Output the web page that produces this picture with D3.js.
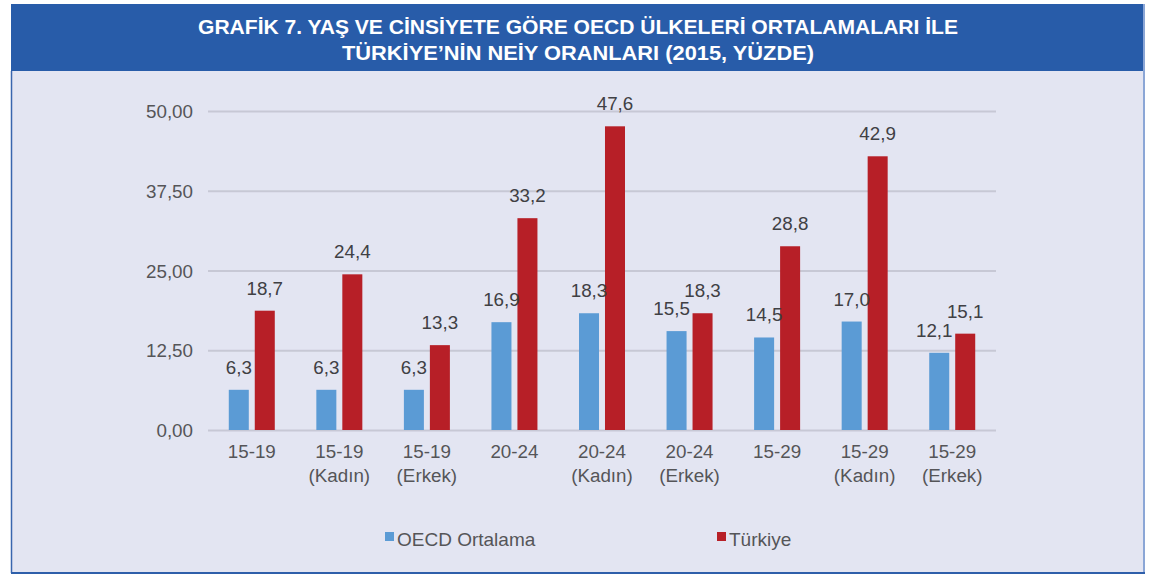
<!DOCTYPE html>
<html>
<head>
<meta charset="utf-8">
<script src="https://cdn.jsdelivr.net/npm/d3@7"></script>
<style>
  body { margin: 0; background: #fff; }
  svg { display: block; font-family: "Liberation Sans", Arial, sans-serif; }
</style>
</head>
<body>
<svg id="chart" width="1152" height="575"></svg>
<script>
// data
const categories = ['15-19', '15-19\n(Kadın)', '15-19\n(Erkek)', '20-24', '20-24\n(Kadın)', '20-24\n(Erkek)', '15-29', '15-29\n(Kadın)', '15-29\n(Erkek)'];
const oecd = [6.3, 6.3, 6.3, 16.9, 18.3, 15.5, 14.5, 17.0, 12.1];
const turkiye = [18.7, 24.4, 13.3, 33.2, 47.6, 18.3, 28.8, 42.9, 15.1];
const seriesNames = ['OECD Ortalama', 'Türkiye'];
const seriesColors = ['#5B9BD5', '#B71F27'];
const yTicks = [0, 12.5, 25, 37.5, 50];
const titleLines = ['GRAFİK 7. YAŞ VE CİNSİYETE GÖRE OECD ÜLKELERİ ORTALAMALARI İLE', 'TÜRKİYE’NİN NEİY ORANLARI (2015, YÜZDE)'];

const svg = d3.select('#chart');
const comma = (v, d) => v.toFixed(d).replace('.', ',');
const fs = 18.8;

// frame + title band
svg.append('rect').attr('x', 11).attr('y', 4).attr('width', 1133).attr('height', 569).attr('fill', '#E3E5F2');
svg.append('rect').attr('x', 11).attr('y', 4).attr('width', 1133).attr('height', 67).attr('fill', '#285CA9');
svg.append('line').attr('x1', 11.5).attr('x2', 11.5).attr('y1', 71).attr('y2', 573).attr('stroke', '#3A66AE').attr('stroke-width', 1.5);
svg.append('line').attr('x1', 1144).attr('x2', 1144).attr('y1', 4).attr('y2', 574).attr('stroke', '#8BA6D6').attr('stroke-width', 2);
svg.append('line').attr('x1', 11).attr('x2', 1145).attr('y1', 573).attr('y2', 573).attr('stroke', '#2E5FAA').attr('stroke-width', 2);

// title squeezed to the width of the condensed face in the reference
svg.selectAll('.title')
  .data(titleLines)
  .join('text')
    .attr('class', 'title')
    .attr('x', 578)
    .attr('y', (d, i) => 34 + i * 26)
    .attr('text-anchor', 'middle')
    .attr('fill', '#fff')
    .attr('font-family', '"Liberation Sans", Arial, sans-serif')
    .attr('font-weight', 'bold')
    .attr('font-size', 21)
    .attr('textLength', (d, i) => i === 0 ? 760 : 472)
    .attr('lengthAdjust', 'spacingAndGlyphs')
    .text(d => d);

// scales
const x0 = d3.scaleBand().domain(categories).range([208, 996]);
const x1 = d3.scaleBand().domain(seriesNames).range([0, 46]).paddingInner(0.23);
const y = d3.scaleLinear().domain([0, 50]).range([430, 111]);

// grid
svg.append('g')
  .attr('transform', 'translate(208,0)')
  .call(d3.axisLeft(y).tickValues(yTicks).tickSize(-788).tickFormat(d => comma(d, 2)))
  .call(g => g.select('.domain').remove())
  .call(g => g.selectAll('line').attr('stroke', '#C7C8D5').attr('stroke-width', 2))
  .call(g => g.selectAll('text')
    .attr('x', -15).attr('dy', '0.35em')
    .attr('fill', '#555558').attr('font-size', fs).attr('font-family', '"Liberation Sans", Arial, sans-serif'));

// bars
const rows = categories.map((c, i) => ({ cat: c, values: [oecd[i], turkiye[i]] }));
const groups = svg.append('g').selectAll('g')
  .data(rows)
  .join('g')
    .attr('transform', d => `translate(${x0(d.cat) + x0.bandwidth() / 2 - 23},0)`);

groups.selectAll('rect')
  .data(d => d.values.map((v, j) => ({ name: seriesNames[j], v, j })))
  .join('rect')
    .attr('x', d => x1(d.name))
    .attr('width', x1.bandwidth())
    .attr('y', d => y(d.v))
    .attr('height', d => y(0) - y(d.v))
    .attr('fill', d => seriesColors[d.j]);

// value labels; the blue one moves left when the two labels would touch
groups.selectAll('text')
  .data(d => d.values.map((v, j) => ({
    name: seriesNames[j], v, j,
    clash: Math.abs(y(d.values[0]) - y(d.values[1])) < 20
  })))
  .join('text')
    .attr('x', d => x1(d.name) + x1.bandwidth() / 2 - (d.j === 0 && d.clash ? 5 : 0))
    .attr('y', d => y(d.v) - 16)
    .attr('text-anchor', 'middle')
    .attr('fill', '#404044')
    .attr('font-size', fs)
    .text(d => comma(d.v, 1));

// category labels
const catLabels = svg.append('g').selectAll('text')
  .data(categories)
  .join('text')
    .attr('x', d => x0(d) + x0.bandwidth() / 2)
    .attr('y', 458)
    .attr('text-anchor', 'middle')
    .attr('fill', '#555558')
    .attr('font-size', fs);
catLabels.selectAll('tspan')
  .data(d => d.split('\n'))
  .join('tspan')
    .attr('x', function () { return d3.select(this.parentNode).attr('x'); })
    .attr('dy', (d, i) => i === 0 ? 0 : 24)
    .text(d => d);

// legend
const legendX = [385, 717];
const legend = svg.append('g').selectAll('g')
  .data(seriesNames)
  .join('g')
    .attr('transform', (d, i) => `translate(${legendX[i]},532)`);
legend.append('rect').attr('width', 9).attr('height', 9).attr('fill', (d, i) => seriesColors[i]);
legend.append('text')
  .attr('x', 12).attr('y', 14)
  .attr('fill', '#555558')
  .attr('font-size', 19)
  .text(d => d);
</script>
</body>
</html>
